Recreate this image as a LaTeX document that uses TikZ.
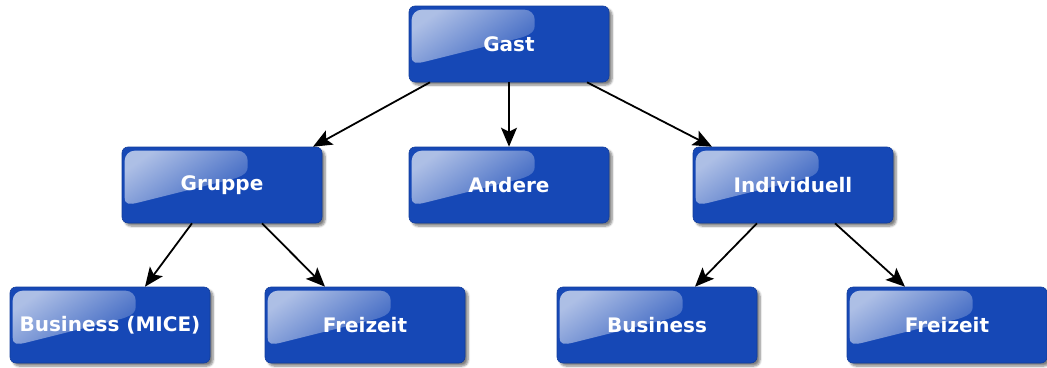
\documentclass[tikz,border=0pt]{standalone}
\usepackage{fontspec}
\setmainfont{DejaVu Sans}
\usetikzlibrary{arrows.meta,shadows.blur,calc}
\definecolor{boxblue}{RGB}{22,72,182}
\tikzset{
  x=1pt, y=-1pt,
  card/.style={rounded corners=6pt, fill=boxblue, draw=boxblue!85!black, line width=0.6pt,
    minimum width=200pt, minimum height=76pt, inner sep=0pt,
    blur shadow={shadow xshift=3pt, shadow yshift=-3pt, shadow blur steps=6, shadow opacity=50}},
  label/.style={text=white, font=\fontsize{20}{24}\selectfont\bfseries, inner sep=0pt},
  arr/.style={line width=1.8pt, -{Stealth[length=19pt,width=16pt,inset=4pt]}},
  gloss/.style={top color=white!65!boxblue, bottom color=white!15!boxblue, shading angle=35, draw=none}
}
\newcommand{\glossy}[1]{%
  \begin{scope}[shift={(#1.north west)}]
    \shade[gloss] (3,14) arc[start angle=180,end angle=90,x radius=10,y radius=-10] -- (116,4)
      arc[start angle=90,end angle=0,x radius=10,y radius=-10] -- (126,20)
      .. controls (126,28) and (118,31) .. (100,35)
      -- (16,56)
      .. controls (8,58) and (3,58) .. (3,51) -- cycle;
  \end{scope}}
\begin{document}
\begin{tikzpicture}
\useasboundingbox (0,0) rectangle (1047,367);
\node[card] (gast) at (509,44) {};
\node[card] (gruppe) at (222,185) {};
\node[card] (andere) at (509,185) {};
\node[card] (indiv) at (793,185) {};
\node[card] (bmice) at (110,325) {};
\node[card] (gfrei) at (365,325) {};
\node[card] (ibus) at (657,325) {};
\node[card] (ifrei) at (947,325) {};
\foreach \n in {gast,gruppe,andere,indiv,bmice,gfrei,ibus,ifrei} {\glossy{\n}}
\node[label] at (gast) {Gast};
\node[label] at (gruppe) {Gruppe};
\node[label] at (andere) {Andere};
\node[label] at (indiv) {Individuell};
\node[label] at (bmice) {Business (MICE)};
\node[label] at (gfrei) {Freizeit};
\node[label] at (ibus) {Business};
\node[label] at (ifrei) {Freizeit};
\draw[arr] ([xshift=-79pt]gast.south) -- ([xshift=91pt]gruppe.north);
\draw[arr] (gast.south) -- (andere.north);
\draw[arr] ([xshift=78pt]gast.south) -- ([xshift=-81pt]indiv.north);
\draw[arr] ([xshift=-30pt]gruppe.south) -- ([xshift=35pt]bmice.north);
\draw[arr] ([xshift=40pt]gruppe.south) -- ([xshift=-40pt]gfrei.north);
\draw[arr] ([xshift=-36pt]indiv.south) -- ([xshift=38pt]ibus.north);
\draw[arr] ([xshift=42pt]indiv.south) -- ([xshift=-42pt]ifrei.north);
\end{tikzpicture}
\end{document}
